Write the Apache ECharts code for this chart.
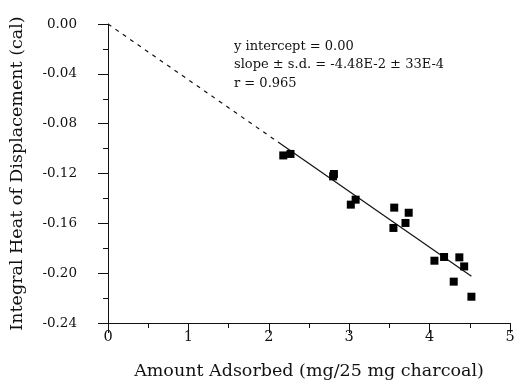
<!DOCTYPE html>
<html>
<head>
<meta charset="utf-8">
<script src="https://cdn.jsdelivr.net/npm/echarts@6/dist/echarts.min.js"></script>
<style>
  html, body { margin: 0; padding: 0; background: #fff; }
  #chart { width: 518px; height: 381px; }
</style>
</head>
<body>
<div id="chart"></div>
<script>
// measured points: amount adsorbed vs integral heat
const amountAdsorbed = [2.18, 2.27, 2.80, 2.81, 3.08, 3.02, 3.56, 3.74, 3.70, 3.55, 4.18, 4.37, 4.06, 4.43, 4.30, 4.52];
const heatOfDisplacement = [-0.1055, -0.1043, -0.1223, -0.1204, -0.1410, -0.1450, -0.1474, -0.1515, -0.1597, -0.1637, -0.1870, -0.1873, -0.1900, -0.1946, -0.2068, -0.2189];

// fitted line (extrapolated part dashed)
const fitDashed = [[0, 0], [2.15, -0.0963]];
const fitSolid = [[2.15, -0.0963], [4.52, -0.2025]];

const xTicks = [0, 1, 2, 3, 4, 5];
const yTicks = [0, -0.04, -0.08, -0.12, -0.16, -0.20, -0.24];

const annotation = [
  'y intercept = 0.00',
  'slope \u00b1 s.d. = -4.48E-2 \u00b1 33E-4',
  'r = 0.965'
];

const font = '"DejaVu Serif", serif';
const ink = '#111';

const chart = echarts.init(document.getElementById('chart'), null, { renderer: 'canvas' });

const points = amountAdsorbed.map((x, i) => [x, heatOfDisplacement[i]]);

chart.setOption({
  animation: false,
  backgroundColor: '#fff',
  grid: { left: 108, top: 24, right: 8, bottom: 58, outerBoundsMode: 'none' },
  xAxis: {
    type: 'value',
    min: xTicks[0],
    max: xTicks[xTicks.length - 1],
    interval: 1,
    name: 'Amount Adsorbed (mg/25 mg charcoal)',
    nameLocation: 'middle',
    nameGap: 39,
    nameTextStyle: { fontFamily: font, fontSize: 17.5, color: ink },
    axisLine: { onZero: false, lineStyle: { color: ink, width: 1 } },
    axisTick: { show: true, inside: false, length: 10, lineStyle: { color: ink } },
    minorTick: { show: true, splitNumber: 2, length: 5, lineStyle: { color: ink } },
    axisLabel: { fontFamily: font, fontSize: 14.5, color: ink, margin: 7 },
    splitLine: { show: false }
  },
  yAxis: {
    type: 'value',
    min: yTicks[yTicks.length - 1],
    max: yTicks[0],
    interval: 0.04,
    name: 'Integral Heat of Displacement (cal)',
    nameLocation: 'middle',
    nameGap: 82,
    nameTextStyle: { fontFamily: font, fontSize: 17.5, color: ink },
    axisLine: { onZero: false, lineStyle: { color: ink, width: 1 } },
    axisTick: { show: true, inside: false, length: 10, lineStyle: { color: ink } },
    minorTick: { show: true, splitNumber: 2, length: 5, lineStyle: { color: ink } },
    axisLabel: {
      fontFamily: font, fontSize: 13.5, color: ink, margin: 31,
      formatter: v => v.toFixed(2)
    },
    splitLine: { show: false }
  },
  series: [
    {
      type: 'line',
      data: fitDashed,
      showSymbol: false,
      lineStyle: { color: ink, width: 1.2, type: [4, 5] },
      z: 1
    },
    {
      type: 'line',
      data: fitSolid,
      showSymbol: false,
      lineStyle: { color: ink, width: 1.2 },
      z: 1
    },
    {
      type: 'scatter',
      data: points,
      symbol: 'rect',
      symbolSize: 8,
      itemStyle: { color: '#000', opacity: 1 },
      z: 2
    }
  ],
  graphic: [{
    type: 'text',
    left: 234,
    top: 37,
    style: {
      text: annotation.join('\n'),
      font: '13px ' + font,
      fill: ink,
      lineHeight: 18.5
    }
  }]
});
</script>
</body>
</html>
